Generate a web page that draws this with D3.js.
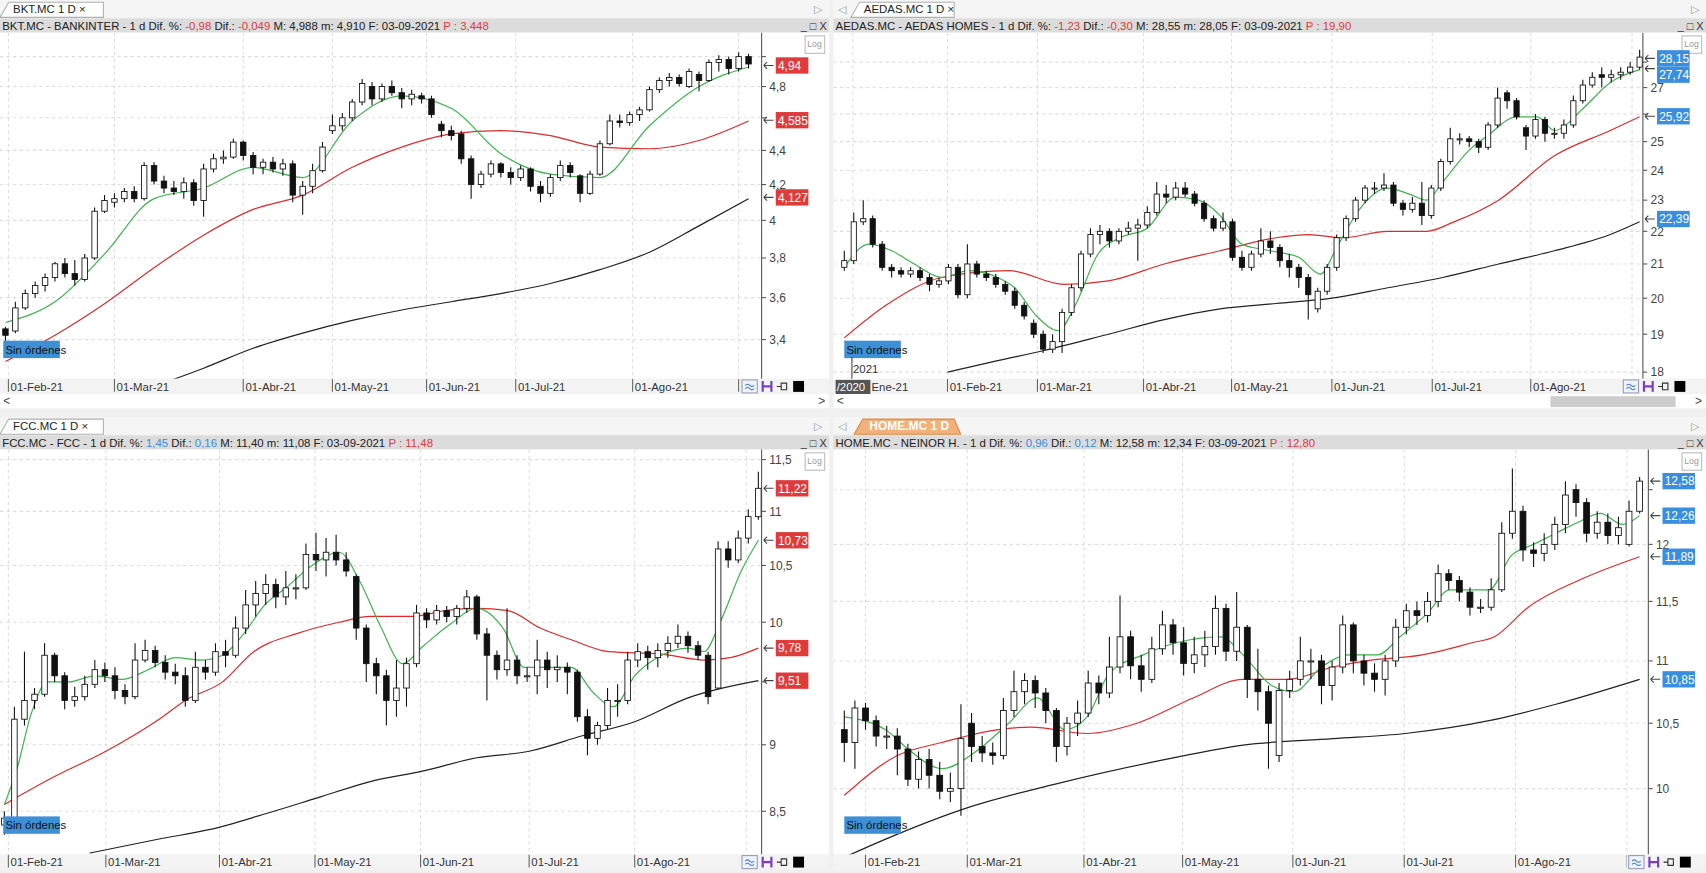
<!DOCTYPE html>
<html><head><meta charset="utf-8">
<script src="https://cdn.jsdelivr.net/npm/d3@7/dist/d3.min.js"></script>
<style>html,body{margin:0;padding:0;background:#f0f0f0;overflow:hidden}svg{display:block}text{font-family:"Liberation Sans Narrow","Arial Narrow","Liberation Sans",sans-serif}</style>
</head><body><svg id="c" width="1706" height="873" viewBox="0 0 1568 802" preserveAspectRatio="none"></svg>
<script>
// ---------- DATA ([open, high, low, close]) ----------
const bktCandles=[[3.45,3.46,3.38,3.42],[3.44,3.58,3.43,3.55],[3.55,3.64,3.54,3.62],[3.62,3.68,3.60,3.66],[3.66,3.72,3.63,3.70],[3.70,3.78,3.68,3.77],[3.77,3.80,3.70,3.72],[3.72,3.79,3.66,3.69],[3.69,3.82,3.68,3.80],[3.80,4.07,3.79,4.05],[4.05,4.14,4.04,4.11],[4.10,4.15,4.07,4.12],[4.12,4.18,4.10,4.16],[4.16,4.19,4.10,4.12],[4.12,4.33,4.11,4.31],[4.31,4.33,4.20,4.22],[4.22,4.25,4.15,4.18],[4.18,4.22,4.14,4.16],[4.16,4.24,4.12,4.21],[4.21,4.23,4.08,4.11],[4.11,4.32,4.02,4.29],[4.29,4.38,4.27,4.35],[4.35,4.40,4.32,4.36],[4.36,4.47,4.35,4.45],[4.45,4.46,4.34,4.37],[4.37,4.39,4.26,4.30],[4.30,4.35,4.26,4.33],[4.33,4.36,4.27,4.29],[4.29,4.35,4.25,4.32],[4.32,4.34,4.10,4.14],[4.14,4.22,4.03,4.19],[4.19,4.32,4.15,4.28],[4.28,4.45,4.27,4.42],[4.52,4.62,4.50,4.55],[4.55,4.63,4.52,4.60],[4.60,4.72,4.58,4.70],[4.70,4.85,4.68,4.82],[4.80,4.83,4.68,4.72],[4.72,4.82,4.70,4.80],[4.80,4.84,4.74,4.76],[4.76,4.79,4.66,4.72],[4.72,4.78,4.68,4.75],[4.74,4.76,4.69,4.72],[4.72,4.74,4.60,4.62],[4.56,4.58,4.48,4.52],[4.52,4.55,4.46,4.49],[4.50,4.52,4.32,4.35],[4.35,4.37,4.12,4.20],[4.20,4.28,4.18,4.26],[4.26,4.34,4.24,4.32],[4.32,4.33,4.24,4.27],[4.27,4.30,4.20,4.24],[4.24,4.31,4.22,4.29],[4.29,4.30,4.16,4.19],[4.19,4.22,4.10,4.15],[4.15,4.26,4.13,4.24],[4.24,4.34,4.22,4.31],[4.31,4.33,4.24,4.27],[4.25,4.26,4.10,4.15],[4.15,4.28,4.14,4.26],[4.26,4.46,4.25,4.44],[4.44,4.62,4.43,4.58],[4.58,4.62,4.54,4.57],[4.57,4.64,4.55,4.62],[4.62,4.67,4.58,4.65],[4.65,4.80,4.64,4.78],[4.78,4.86,4.76,4.84],[4.84,4.89,4.80,4.86],[4.86,4.88,4.80,4.82],[4.80,4.92,4.79,4.90],[4.88,4.90,4.77,4.84],[4.84,4.98,4.83,4.96],[4.96,5.01,4.90,4.98],[4.98,5.00,4.88,4.92],[4.92,5.03,4.90,5.00],[5.00,5.02,4.92,4.95]];
const bktMA10=[[0,3.48],[5,3.58],[10,3.82],[15,4.12],[20,4.18],[25,4.30],[30,4.24],[35,4.58],[40,4.74],[45,4.66],[50,4.38],[55,4.26],[60,4.24],[65,4.55],[70,4.80],[75,4.93]];
const bktMA50=[[0,3.30],[5,3.42],[10,3.57],[15,3.75],[20,3.92],[25,4.06],[30,4.14],[35,4.30],[40,4.42],[45,4.50],[50,4.52],[55,4.49],[60,4.42],[65,4.41],[70,4.46],[75,4.58]];
const bktMA200=[[15,3.19],[20,3.27],[25,3.36],[30,3.43],[35,3.49],[40,3.54],[45,3.58],[50,3.62],[55,3.67],[60,3.74],[65,3.83],[70,3.97],[75,4.12]];
const bktTicks=[3.4,3.6,3.8,4,4.2,4.4,4.6,4.8,5];
const bktMonthIdx=[0.3,11,24,33,42.5,51.5,63.3,74];

const aedCandles=[[20.9,21.4,20.8,21.1],[21.1,22.6,21.0,22.3],[22.3,23.0,22.2,22.4],[22.4,22.5,21.5,21.6],[21.6,21.7,20.8,20.9],[20.9,21.0,20.6,20.8],[20.8,20.9,20.6,20.7],[20.7,20.9,20.6,20.8],[20.8,20.9,20.5,20.6],[20.6,20.7,20.2,20.4],[20.4,20.6,20.3,20.5],[20.5,21.0,20.4,20.9],[20.9,21.0,20.0,20.1],[20.1,21.6,20.0,21.0],[21.0,21.1,20.6,20.7],[20.7,20.8,20.5,20.6],[20.6,20.7,20.3,20.4],[20.4,20.5,20.1,20.2],[20.2,20.3,19.7,19.8],[19.8,19.9,19.4,19.5],[19.3,19.4,18.9,19.0],[19.0,19.1,18.5,18.6],[18.6,19.0,18.5,18.8],[18.8,19.7,18.5,19.6],[19.6,20.4,19.5,20.3],[20.3,21.4,20.2,21.3],[21.3,22.1,21.2,21.9],[21.9,22.2,21.6,22.0],[22.0,22.1,21.5,21.7],[21.7,22.1,21.6,22.0],[22.0,22.3,21.9,22.1],[22.1,22.4,21.1,22.2],[22.2,22.8,22.1,22.6],[22.6,23.6,22.5,23.2],[23.2,23.5,22.9,23.1],[23.1,23.6,23.0,23.4],[23.4,23.6,23.1,23.2],[23.2,23.3,22.8,22.9],[22.9,23.0,22.3,22.4],[22.4,22.5,22.0,22.1],[22.1,22.6,22.0,22.3],[22.3,22.4,21.1,21.2],[21.2,21.4,20.8,20.9],[20.9,21.4,20.8,21.3],[21.3,22.1,21.2,21.7],[21.7,22.0,21.3,21.5],[21.5,21.6,20.9,21.1],[21.1,21.3,20.6,20.9],[20.9,21.0,20.3,20.6],[20.6,20.7,19.4,20.1],[19.7,20.3,19.6,20.2],[20.2,21.0,20.1,20.9],[20.9,21.9,20.8,21.8],[21.8,22.5,21.7,22.4],[22.4,23.1,22.3,23.0],[23.0,23.5,22.9,23.4],[23.4,23.6,23.2,23.4],[23.4,23.9,23.3,23.5],[23.5,23.6,22.8,22.9],[22.9,23.0,22.5,22.7],[22.7,23.1,22.6,22.9],[22.9,23.6,22.2,22.5],[22.5,23.5,22.4,23.4],[23.4,24.4,23.3,24.3],[24.3,25.5,24.2,25.1],[25.1,25.3,24.9,25.1],[25.1,25.2,24.8,25.0],[25.0,25.1,24.6,24.8],[24.8,25.7,24.7,25.6],[25.6,27.0,25.5,26.6],[26.8,26.9,26.2,26.5],[26.5,26.6,25.8,25.9],[25.5,25.6,24.7,25.2],[25.2,26.0,25.1,25.8],[25.8,25.9,25.0,25.3],[25.3,25.5,25.1,25.3],[25.3,25.8,25.1,25.6],[25.6,26.7,25.5,26.5],[26.5,27.3,26.4,27.1],[27.1,27.6,27.0,27.4],[27.5,27.8,27.0,27.4],[27.4,27.7,27.2,27.5],[27.5,27.8,27.3,27.6],[27.6,28.0,27.5,27.8],[27.8,28.5,27.7,28.2]];
const aedMA10=[[0,20.9],[2.6,21.6],[5,21.4],[7.4,21.0],[10.3,20.6],[13.2,20.8],[16.2,20.6],[18,20.3],[20.3,19.5],[22.6,19.1],[24.4,19.8],[26.8,21.3],[29.1,21.8],[32,22.1],[35,23.1],[37.4,23.0],[39.7,22.5],[42,21.6],[45,21.4],[48,21.2],[50.3,20.7],[52,21.5],[54.4,22.7],[57.3,23.4],[59.7,23.2],[61.5,23.0],[63.2,23.6],[66,24.7],[67.9,25.2],[71,25.9],[73.2,25.9],[75,25.4],[78,26.2],[80.9,27.2],[84,27.7]];
const aedMA50=[[0,18.9],[4.4,19.8],[10.3,20.6],[17.4,20.8],[23.2,20.4],[27.9,20.5],[33.8,21.0],[39.7,21.4],[45.6,21.8],[49.1,21.9],[52.6,21.8],[57.4,22.0],[61.5,22.0],[64.4,22.3],[69.1,23.0],[75,24.5],[80.9,25.4],[84,25.9]];
const aedMA200=[[10.9,18.0],[16.2,18.3],[20.9,18.55],[27.9,19.0],[33.8,19.4],[39.7,19.7],[45.6,19.85],[51.5,20.0],[57.4,20.3],[63.2,20.6],[69.1,21.0],[75,21.4],[80.9,21.9],[84,22.3]];
const aedTicks=[18,19,20,21,22,23,24,25,26,27,28];
const aedMonthIdx=[0.9,10.9,20.4,31.6,40.9,51.5,62.1,72.5,83.2];

const fccCandles=[[8.40,8.50,8.33,8.45],[8.45,9.30,8.44,9.20],[9.20,9.75,9.15,9.35],[9.35,9.45,9.28,9.40],[9.40,9.82,9.38,9.72],[9.72,9.74,9.50,9.55],[9.55,9.58,9.28,9.35],[9.35,9.46,9.30,9.38],[9.38,9.55,9.35,9.48],[9.48,9.68,9.45,9.60],[9.60,9.66,9.50,9.55],[9.55,9.62,9.36,9.43],[9.43,9.48,9.32,9.38],[9.38,9.82,9.36,9.68],[9.68,9.85,9.66,9.76],[9.76,9.80,9.62,9.66],[9.66,9.72,9.52,9.58],[9.58,9.65,9.48,9.55],[9.55,9.62,9.30,9.35],[9.35,9.75,9.33,9.62],[9.62,9.68,9.52,9.58],[9.58,9.82,9.55,9.75],[9.75,9.85,9.62,9.72],[9.72,10.05,9.70,9.95],[9.95,10.28,9.90,10.15],[10.15,10.36,10.05,10.25],[10.25,10.42,10.15,10.33],[10.33,10.38,10.12,10.22],[10.22,10.45,10.15,10.30],[10.30,10.42,10.20,10.30],[10.30,10.70,10.28,10.60],[10.60,10.80,10.45,10.55],[10.55,10.75,10.40,10.62],[10.62,10.78,10.50,10.55],[10.55,10.62,10.40,10.45],[10.40,10.42,9.85,9.95],[9.95,9.98,9.50,9.65],[9.65,9.70,9.40,9.55],[9.55,9.60,9.15,9.35],[9.35,9.68,9.22,9.45],[9.45,9.70,9.30,9.65],[9.65,10.15,9.62,10.08],[10.08,10.12,9.95,10.02],[10.02,10.15,9.98,10.10],[10.10,10.14,10.00,10.05],[10.05,10.15,9.98,10.12],[10.12,10.28,10.08,10.22],[10.22,10.24,9.85,9.90],[9.90,9.95,9.35,9.72],[9.72,9.76,9.52,9.60],[9.60,10.12,9.55,9.68],[9.68,9.72,9.48,9.55],[9.55,9.62,9.50,9.55],[9.55,9.85,9.40,9.68],[9.68,9.75,9.45,9.60],[9.60,9.72,9.50,9.62],[9.62,9.66,9.40,9.58],[9.58,9.60,9.18,9.22],[9.22,9.28,8.92,9.05],[9.05,9.18,9.00,9.15],[9.15,9.45,9.12,9.35],[9.35,9.48,9.22,9.35],[9.35,9.75,9.32,9.68],[9.68,9.82,9.62,9.75],[9.75,9.80,9.60,9.70],[9.70,9.82,9.62,9.76],[9.76,9.88,9.70,9.82],[9.82,9.98,9.78,9.88],[9.88,9.92,9.74,9.80],[9.80,9.84,9.68,9.72],[9.72,9.75,9.32,9.38],[9.45,10.72,9.44,10.65],[10.65,10.72,10.48,10.55],[10.55,10.82,10.52,10.75],[10.75,11.02,10.70,10.95],[10.95,11.38,10.92,11.22]];
const fccMA10=[[0,8.55],[1.2,8.8],[2.7,9.25],[4.3,9.5],[6.4,9.5],[9,9.55],[11.7,9.52],[14.3,9.6],[17,9.7],[19.6,9.68],[21.7,9.72],[23.8,9.9],[25.9,10.15],[28,10.3],[30.6,10.5],[33.3,10.62],[35.4,10.35],[37.5,9.95],[39.6,9.65],[41.7,9.8],[44.3,9.98],[47,10.12],[49.6,9.95],[51.7,9.62],[54.3,9.62],[56.4,9.62],[58.5,9.42],[60.6,9.3],[62.7,9.55],[65.4,9.72],[68,9.78],[69.6,9.75],[71.2,10.0],[73.3,10.45],[75,10.73]];
const fccMA50=[[0,8.55],[4.8,8.75],[10.1,8.95],[15.4,9.2],[18,9.35],[21.7,9.5],[24.8,9.75],[29,9.9],[33.3,10.0],[36.4,10.05],[40.6,10.05],[43.8,10.1],[47,10.12],[50.1,10.1],[53.3,9.95],[56.4,9.85],[60.1,9.75],[65.4,9.73],[69.6,9.68],[72.2,9.7],[75,9.78]];
const fccMA200=[[8.5,8.2],[15.4,8.3],[20.6,8.37],[25.9,8.48],[31.2,8.6],[36.4,8.72],[41.7,8.8],[47,8.9],[52.2,8.95],[57.5,9.07],[62.7,9.18],[68,9.37],[75,9.51]];
const fccTicks=[8.5,9,9.5,10,10.5,11,11.5];
const fccMonthIdx=[0.4,10.1,21.4,30.9,41.4,52.2,62.7,73.8];

const homeCandles=[[10.45,10.60,10.20,10.35],[10.35,10.68,10.15,10.62],[10.62,10.66,10.45,10.52],[10.52,10.56,10.32,10.40],[10.40,10.48,10.30,10.40],[10.40,10.46,10.10,10.30],[10.30,10.34,10.02,10.07],[10.07,10.28,10.00,10.22],[10.22,10.30,10.00,10.10],[10.10,10.20,9.92,9.98],[9.98,10.12,9.90,10.00],[10.00,10.65,9.80,10.38],[10.50,10.58,10.20,10.32],[10.32,10.40,10.20,10.27],[10.27,10.35,10.18,10.25],[10.25,10.70,10.22,10.60],[10.60,10.92,10.55,10.75],[10.75,10.90,10.65,10.84],[10.84,10.88,10.62,10.74],[10.74,10.78,10.50,10.60],[10.60,10.62,10.20,10.32],[10.32,10.55,10.25,10.50],[10.50,10.68,10.40,10.58],[10.58,10.92,10.55,10.82],[10.82,10.88,10.65,10.74],[10.74,11.20,10.70,10.95],[10.95,11.55,10.90,11.20],[11.20,11.25,10.85,10.96],[10.96,11.05,10.75,10.85],[10.85,11.20,10.82,11.10],[11.10,11.42,11.05,11.30],[11.30,11.35,11.05,11.15],[11.15,11.28,10.88,10.98],[10.98,11.20,10.90,11.05],[11.05,11.25,10.95,11.12],[11.12,11.55,11.05,11.44],[11.44,11.48,11.00,11.08],[11.08,11.58,11.00,11.28],[11.28,11.30,10.70,10.85],[10.85,11.10,10.60,10.75],[10.75,10.80,10.15,10.50],[10.25,10.82,10.20,10.76],[10.76,10.92,10.70,10.85],[10.85,11.20,10.80,11.00],[11.00,11.10,10.85,11.00],[11.00,11.05,10.65,10.80],[10.80,11.00,10.68,10.95],[10.95,11.38,10.90,11.30],[11.30,11.32,10.90,11.00],[11.00,11.05,10.80,10.90],[10.90,10.98,10.75,10.85],[10.85,11.05,10.72,11.00],[11.00,11.35,10.95,11.28],[11.28,11.48,11.22,11.42],[11.42,11.50,11.30,11.38],[11.38,11.58,11.32,11.50],[11.50,11.82,11.45,11.74],[11.74,11.78,11.60,11.68],[11.68,11.72,11.50,11.58],[11.58,11.62,11.38,11.45],[11.45,11.52,11.40,11.45],[11.45,11.70,11.42,11.60],[11.60,12.20,11.58,12.10],[12.10,12.70,12.05,12.30],[12.30,12.35,11.85,11.95],[11.95,12.02,11.80,11.92],[11.92,12.10,11.85,12.00],[12.00,12.25,11.95,12.18],[12.18,12.58,12.10,12.45],[12.50,12.55,12.25,12.38],[12.38,12.42,12.02,12.10],[12.10,12.30,12.05,12.20],[12.20,12.28,12.00,12.08],[12.08,12.25,12.00,12.15],[12.00,12.40,11.98,12.30],[12.30,12.62,12.28,12.58]];
const homeMA10=[[0,10.55],[3.9,10.45],[6,10.3],[9.2,10.15],[12.4,10.28],[15.5,10.5],[18.2,10.7],[20.8,10.45],[22.9,10.55],[25,10.9],[28.2,11.05],[31.3,11.15],[35.5,11.2],[37.6,11.05],[40.3,10.8],[42.4,10.75],[45,10.95],[47.6,11.05],[50.3,11.05],[52.4,11.2],[55,11.4],[57.1,11.6],[59.2,11.6],[60.8,11.6],[62.9,11.9],[65,12.0],[67.1,12.1],[69.2,12.2],[71.3,12.28],[73.4,12.18],[75,12.26]];
const homeMA50=[[0,9.95],[5,10.25],[9.2,10.35],[14.5,10.45],[17.6,10.47],[22.9,10.42],[27.6,10.5],[32.9,10.7],[37.6,10.85],[41.8,10.85],[46.1,10.95],[49.2,11.0],[54.5,11.05],[59.2,11.15],[61.3,11.2],[64.5,11.45],[69.7,11.7],[75,11.89]];
const homeMA200=[[0,9.5],[3.9,9.63],[11.3,9.85],[19.7,10.03],[30.3,10.22],[37.6,10.33],[46.1,10.38],[52.9,10.42],[60.8,10.52],[67.1,10.65],[75,10.85]];
const homeTicks=[10,10.5,11,11.5,12,12.5];
const homeMonthIdx=[2.0,11.6,22.6,31.9,42.3,52.8,63.3,73.8];

const monthLabels=["01-Feb-21","01-Mar-21","01-Abr-21","01-May-21","01-Jun-21","01-Jul-21","01-Ago-21","01-Sep-21"];
const aedMonthLabels=["Ene-21","01-Feb-21","01-Mar-21","01-Abr-21","01-May-21","01-Jun-21","01-Jul-21","01-Ago-21","01-Sep-21"];

// ---------- DRAW ----------
const svg=d3.select("#c");
svg.append("rect").attr("width",1568).attr("height",802).attr("fill","#f0f0f0");
const fmt=v=>String(v).replace(".",",");
const RED="#e03b3b",BLUE="#3a8ee0";

function panel(c){
  const g=svg.append("g");
  g.append("rect").attr("x",c.x0).attr("y",c.top).attr("width",c.x1-c.x0).attr("height",16).attr("fill","#f5f5f5");
  const tw=c.tabW;
  if(c.activeTab){
    g.append("path").attr("d",`M${c.tabX},${c.top+16}L${c.tabX+8},${c.top+2}H${c.tabX+tw}L${c.tabX+tw+6},${c.top+16}Z`).attr("fill","#f2b07a").attr("stroke","#d98a4a");
    g.append("text").attr("x",c.tabX+14).attr("y",c.top+12).attr("font-size",11).attr("fill","#fff").attr("font-weight","bold").text(c.tab);
  } else {
    g.append("path").attr("d",`M${c.tabX},${c.top+16}L${c.tabX+8},${c.top+2}H${c.tabX+tw}V${c.top+16}Z`).attr("fill","#fff").attr("stroke","#b0b0b0");
    g.append("text").attr("x",c.tabX+12).attr("y",c.top+12).attr("font-size",10.5).attr("fill","#222").text(c.tab+"   ×");
  }
  g.append("text").attr("x",c.x1-14).attr("y",c.top+12).attr("font-size",10).attr("fill","#999").text("▷");
  if(c.x0>0) g.append("text").attr("x",c.x0+4).attr("y",c.top+12).attr("font-size",10).attr("fill","#999").text("◁");
  g.append("rect").attr("x",c.x0).attr("y",c.top+17).attr("width",c.x1-c.x0).attr("height",13).attr("fill","#dcdcdc");
  const ht=g.append("text").attr("x",c.x0+2).attr("y",c.top+27.5).attr("font-size",10.5).attr("fill","#222");
  c.header.forEach(p=>ht.append("tspan").attr("fill",p[1]||"#222").text(p[0]));
  g.append("text").attr("x",c.x1-26).attr("y",c.top+27.5).attr("font-size",10).attr("fill","#333").text("_ □ X");
  const pt=c.top+30, pb=c.plotBottom;
  g.append("rect").attr("x",c.x0).attr("y",pt).attr("width",c.x1-c.x0).attr("height",pb-pt).attr("fill","#fff");
  g.append("line").attr("x1",c.plotR).attr("x2",c.plotR).attr("y1",pt).attr("y2",pb).attr("stroke","#555");
  const n=c.candles.length;
  const x=d3.scaleLinear().domain([0,n-1]).range([c.cx0,c.cx1]);
  const y=d3.scaleLog().domain(c.yDomain).range([pb,pt]);
  const cid="clip"+c.id;
  svg.append("clipPath").attr("id",cid).append("rect").attr("x",c.x0).attr("y",pt).attr("width",c.plotR-c.x0).attr("height",pb-pt);
  const pg=g.append("g").attr("clip-path",`url(#${cid})`);
  c.ticks.forEach(t=>pg.append("line").attr("x1",c.x0).attr("x2",c.plotR).attr("y1",y(t)).attr("y2",y(t)).attr("stroke","#ddd").attr("stroke-dasharray","3,3"));
  c.monthIdx.forEach(m=>pg.append("line").attr("x1",x(m)).attr("x2",x(m)).attr("y1",pt).attr("y2",pb).attr("stroke","#ddd").attr("stroke-dasharray","3,3"));
  const line=d3.line().x(d=>x(d[0])).y(d=>y(d[1])).curve(d3.curveMonotoneX);
  [[c.ma200,"#222"],[c.ma50,"#e02a2a"],[c.ma10,"#3bb54a"]].forEach(m=>pg.append("path").attr("d",line(m[0])).attr("fill","none").attr("stroke",m[1]).attr("stroke-width",1.1));
  const bw=Math.max(3,(c.cx1-c.cx0)/(n-1)*0.55);
  const cg=pg.selectAll("g.k").data(c.candles).join("g");
  cg.append("line").attr("x1",(d,i)=>x(i)).attr("x2",(d,i)=>x(i)).attr("y1",d=>y(d[1])).attr("y2",d=>y(d[2])).attr("stroke","#111");
  cg.append("rect").attr("x",(d,i)=>x(i)-bw/2).attr("width",bw)
    .attr("y",d=>y(Math.max(d[0],d[3]))).attr("height",d=>Math.max(1,Math.abs(y(d[0])-y(d[3]))))
    .attr("fill",d=>d[3]>=d[0]?"#fff":"#111").attr("stroke","#111").attr("stroke-width",0.8);
  const ax=g.append("g");
  c.ticks.forEach(t=>{ax.append("line").attr("x1",c.plotR).attr("x2",c.plotR+4).attr("y1",y(t)).attr("y2",y(t)).attr("stroke","#555");
    const covered=c.badges.some(b=>Math.abs(y(b[0])-y(t))<11);
    if(!covered) ax.append("text").attr("x",c.plotR+7).attr("y",y(t)+4).attr("font-size",11).attr("fill","#444").text(fmt(t));});
  g.append("rect").attr("x",c.x1-22).attr("y",pt+3).attr("width",18).attr("height",16).attr("fill","#fff").attr("stroke","#bbb");
  g.append("text").attr("x",c.x1-20).attr("y",pt+13).attr("font-size",8).attr("fill","#999").text("Log");
  let prev=-1e9;
  c.badges.slice().sort((a,b)=>b[0]-a[0]).forEach(b=>{let yy=y(b[0]); if(yy<prev+15) yy=prev+15; prev=yy;
    g.append("path").attr("d",`M${c.plotR+2},${y(b[0])}h9M${c.plotR+2},${y(b[0])}l3,-3M${c.plotR+2},${y(b[0])}l3,3`).attr("stroke","#444").attr("fill","none");
    g.append("rect").attr("x",c.plotR+13).attr("y",yy-7.5).attr("width",30).attr("height",15).attr("fill",b[2]);
    g.append("text").attr("x",c.plotR+15).attr("y",yy+4).attr("font-size",11).attr("fill","#fff").text(b[1]);});
  g.append("rect").attr("x",c.x0+(c.x0?10:3)).attr("y",pb-35).attr("width",52).attr("height",16).attr("fill","#3d8fd6");
  g.append("text").attr("x",c.x0+(c.x0?12:5)).attr("y",pb-23).attr("font-size",10.5).attr("fill","#111").text("Sin órdenes");
  g.append("rect").attr("x",c.x0).attr("y",pb).attr("width",c.x1-c.x0).attr("height",14).attr("fill","#f3f3f3");
  const dcid="dclip"+c.id;
  const dl=c.x0+(c.id==="aed"?36:0);
  svg.append("clipPath").attr("id",dcid).append("rect").attr("x",dl).attr("y",pb).attr("width",c.plotR-20-dl).attr("height",16);
  const dg=g.append("g").attr("clip-path",`url(#${dcid})`);
  c.monthIdx.forEach((m,i)=>{dg.append("line").attr("x1",x(m)).attr("x2",x(m)).attr("y1",pb).attr("y2",pb+12).attr("stroke","#666");
    if(c.id==="aed"&&i===0) return;
    dg.append("text").attr("x",x(m)+2).attr("y",pb+11).attr("font-size",10.5).attr("fill","#333").text(c.mLabels[i]);});
  if(c.id==="aed"){g.append("rect").attr("x",c.x0+2).attr("y",pb+1).attr("width",32).attr("height",13).attr("fill","#555");
    g.append("text").attr("x",c.x0+3).attr("y",pb+11).attr("font-size",10.5).attr("fill","#fff").text("/2020");
    g.append("text").attr("x",c.x0+35).attr("y",pb+11).attr("font-size",10.5).attr("fill","#333").text(c.mLabels[0]);
    g.append("line").attr("x1",c.x0+17).attr("x2",c.x0+17).attr("y1",pb-20).attr("y2",pb).attr("stroke","#444");
    g.append("text").attr("x",c.x0+18).attr("y",pb-5).attr("font-size",10.5).attr("fill","#333").text("2021");}
  // toolbar icons (drawn as shapes)
  const ix=c.plotR-18;
  g.append("rect").attr("x",ix).attr("y",pb+1).attr("width",14).attr("height",12).attr("fill","#eef4ff").attr("stroke","#99b");
  g.append("path").attr("d",`M${ix+3},${pb+6}q2,-2 4,0t4,0M${ix+3},${pb+9}q2,-2 4,0t4,0`).attr("stroke","#4a7fd4").attr("fill","none");
  g.append("path").attr("d",`M${ix+19},${pb+2}v10M${ix+27},${pb+2}v10M${ix+19},${pb+7}h8`).attr("stroke","#7a3fc0").attr("stroke-width",2).attr("fill","none");
  g.append("path").attr("d",`M${ix+32},${pb+7}h4M${ix+36},${pb+4}h5v6h-5z`).attr("stroke","#333").attr("fill","none");
  g.append("rect").attr("x",ix+47).attr("y",pb+2).attr("width",10).attr("height",10).attr("fill","#000");
  if(c.scroll){g.append("rect").attr("x",c.x0).attr("y",pb+14).attr("width",c.x1-c.x0).attr("height",13).attr("fill","#fff");
    g.append("text").attr("x",c.x0+3).attr("y",pb+24).attr("font-size",11).attr("fill","#444").text("<");
    if(c.thumb) g.append("rect").attr("x",c.thumb[0]).attr("y",pb+16).attr("width",c.thumb[1]).attr("height",10).attr("fill","#ccc");
    g.append("text").attr("x",c.x1-10).attr("y",pb+24).attr("font-size",11).attr("fill","#444").text(">");}
}

panel({id:"bkt",x0:0,x1:762,top:0,plotR:700,plotBottom:348,cx0:5,cx1:688,tab:"BKT.MC 1 D",tabX:0,tabW:95,
  header:[["BKT.MC - BANKINTER -  1 d  Dif. %: "],["-0,98",RED],["  Dif.: "],["-0,049",RED],["  M: 4,988  m: 4,910  F: 03-09-2021  "],["P : 3,448",RED]],
  candles:bktCandles,ma10:bktMA10,ma50:bktMA50,ma200:bktMA200,yDomain:[3.223,5.166],ticks:bktTicks,monthIdx:bktMonthIdx,mLabels:monthLabels,
  badges:[[4.94,"4,94",RED],[4.585,"4,585",RED],[4.127,"4,127",RED]],scroll:true});
panel({id:"aed",x0:766,x1:1568,top:0,plotR:1510,plotBottom:348,cx0:776,cx1:1507,tab:"AEDAS.MC 1 D",tabX:782,tabW:95,
  header:[["AEDAS.MC - AEDAS HOMES -  1 d  Dif. %: "],["-1,23",RED],["  Dif.: "],["-0,30",RED],["  M: 28,55  m: 28,05  F: 03-09-2021  "],["P : 19,90",RED]],
  candles:aedCandles,ma10:aedMA10,ma50:aedMA50,ma200:aedMA200,yDomain:[17.83,29.2],ticks:aedTicks,monthIdx:aedMonthIdx,mLabels:aedMonthLabels,
  badges:[[28.15,"28,15",BLUE],[27.74,"27,74",BLUE],[25.92,"25,92",BLUE],[22.39,"22,39",BLUE]],scroll:true,thumb:[1425,115]});
panel({id:"fcc",x0:0,x1:762,top:383,plotR:700,plotBottom:785,cx0:4,cx1:697,tab:"FCC.MC 1 D",tabX:0,tabW:95,
  header:[["FCC.MC - FCC -  1 d  Dif. %: "],["1,45",BLUE],["  Dif.: "],["0,16",BLUE],["  M: 11,40  m: 11,08  F: 03-09-2021  "],["P : 11,48",RED]],
  candles:fccCandles,ma10:fccMA10,ma50:fccMA50,ma200:fccMA200,yDomain:[8.19,11.6],ticks:fccTicks,monthIdx:fccMonthIdx,mLabels:monthLabels,
  badges:[[11.22,"11,22",RED],[10.73,"10,73",RED],[9.78,"9,78",RED],[9.51,"9,51",RED]]});
panel({id:"home",x0:766,x1:1568,top:383,plotR:1515,plotBottom:785,cx0:776,cx1:1507,tab:"HOME.MC 1 D",tabX:785,tabW:92,activeTab:true,
  header:[["HOME.MC - NEINOR H. -  1 d  Dif. %: "],["0,96",BLUE],["  Dif.: "],["0,12",BLUE],["  M: 12,58  m: 12,34  F: 03-09-2021  "],["P : 12,80",RED]],
  candles:homeCandles,ma10:homeMA10,ma50:homeMA50,ma200:homeMA200,yDomain:[9.52,12.88],ticks:homeTicks,monthIdx:homeMonthIdx,mLabels:monthLabels,
  badges:[[12.58,"12,58",BLUE],[12.26,"12,26",BLUE],[11.89,"11,89",BLUE],[10.85,"10,85",BLUE]]});
</script></body></html>
